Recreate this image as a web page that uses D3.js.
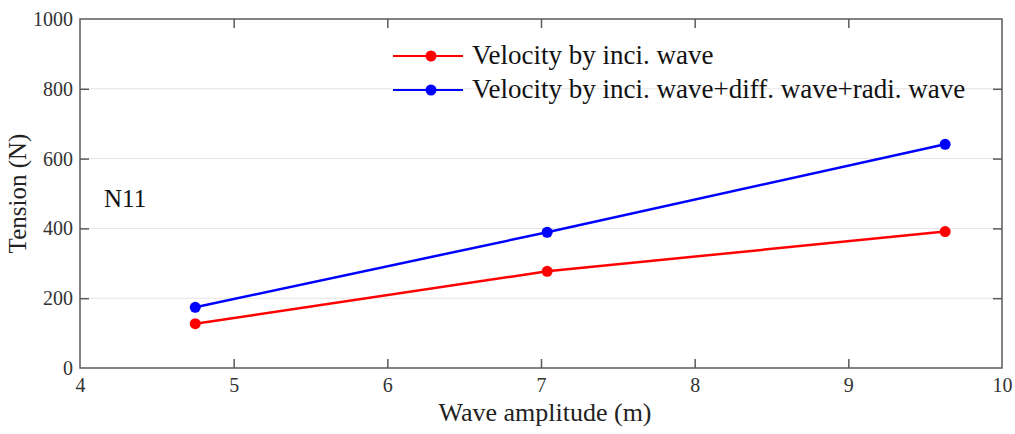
<!DOCTYPE html>
<html>
<head>
<meta charset="utf-8">
<script src="https://cdn.jsdelivr.net/npm/d3@7"></script>
<style>
  html, body { margin: 0; padding: 0; background: #fff; }
  svg { display: block; font-family: "Liberation Serif", "Times New Roman", serif; }
</style>
</head>
<body>
<div id="chart"></div>
<script>
// Data
const amplitudes = [4.75, 7.04, 9.63];
const tensionInci = [127, 277, 391];
const tensionAll = [174, 389, 641];
const xTicks = [4, 5, 6, 7, 8, 9, 10];
const yTicks = [0, 200, 400, 600, 800, 1000];
const seriesNames = [
  'Velocity by inci. wave',
  'Velocity by inci. wave+diff. wave+radi. wave'
];
const seriesColors = ['#ff0000', '#0000ff'];

const width = 1015, height = 434;
const margin = { top: 19, right: 13, bottom: 66, left: 80 };
const innerW = width - margin.left - margin.right;
const innerH = height - margin.top - margin.bottom;
const axisColor = '#5a5a5a';
const serif = '"Liberation Serif", "Times New Roman", serif';

const svg = d3.select('#chart').append('svg')
  .attr('width', width)
  .attr('height', height);

const g = svg.append('g')
  .attr('transform', `translate(${margin.left},${margin.top})`);

const x = d3.scaleLinear().domain([4, 10]).range([0, innerW]);
const y = d3.scaleLinear().domain([0, 1000]).range([innerH, 0]);

// Horizontal grid lines
g.append('g')
  .selectAll('line')
  .data(yTicks.slice(1, -1))
  .join('line')
  .attr('x1', 0)
  .attr('x2', innerW)
  .attr('y1', d => y(d))
  .attr('y2', d => y(d))
  .attr('stroke', '#e4e4e4')
  .attr('stroke-width', 1);

// Axes (inward ticks, like the original)
function styleAxis(sel) {
  sel.attr('font-family', serif).attr('font-size', 20);
  sel.select('.domain').remove();
  sel.selectAll('line').attr('stroke', axisColor).attr('stroke-width', 1.5);
  sel.selectAll('text').attr('fill', '#333');
}

const xAxis = g.append('g')
  .attr('transform', `translate(0,${innerH})`)
  .call(d3.axisBottom(x).tickValues(xTicks).tickSize(-9).tickPadding(10).tickFormat(d3.format('d')));
styleAxis(xAxis);
xAxis.selectAll('.tick').filter(d => d === 4 || d === 10).select('line').remove();

g.append('g')
  .call(d3.axisTop(x).tickValues(xTicks).tickSize(-9).tickFormat(''))
  .call(styleAxis)
  .selectAll('.tick').filter(d => d === 4 || d === 10).select('line').remove();

const yAxis = g.append('g')
  .call(d3.axisLeft(y).tickValues(yTicks).tickSize(-9).tickPadding(7).tickFormat(d3.format('d')));
styleAxis(yAxis);
yAxis.selectAll('.tick').filter(d => d === 0 || d === 1000).select('line').remove();

g.append('g')
  .attr('transform', `translate(${innerW},0)`)
  .call(d3.axisRight(y).tickValues(yTicks).tickSize(-9).tickFormat(''))
  .call(styleAxis)
  .selectAll('.tick').filter(d => d === 0 || d === 1000).select('line').remove();

// Box
g.append('rect')
  .attr('width', innerW)
  .attr('height', innerH)
  .attr('fill', 'none')
  .attr('stroke', axisColor)
  .attr('stroke-width', 1.5);

// Series
const seriesData = [tensionInci, tensionAll];
const line = d3.line()
  .x(d => x(d[0]))
  .y(d => y(d[1]));

seriesData.forEach((vals, i) => {
  const pts = amplitudes.map((a, j) => [a, vals[j]]);
  g.append('path')
    .datum(pts)
    .attr('d', line)
    .attr('fill', 'none')
    .attr('stroke', seriesColors[i])
    .attr('stroke-width', 2.5);
  g.selectAll(`.dot-${i}`)
    .data(pts)
    .join('circle')
    .attr('class', `dot-${i}`)
    .attr('cx', d => x(d[0]))
    .attr('cy', d => y(d[1]))
    .attr('r', 5.5)
    .attr('fill', seriesColors[i]);
});

// Legend
const legend = svg.append('g').attr('transform', 'translate(393,56)');
seriesNames.forEach((name, i) => {
  const row = legend.append('g').attr('transform', `translate(0,${i * 34})`);
  row.append('line')
    .attr('x1', 0).attr('x2', 70)
    .attr('stroke', seriesColors[i]).attr('stroke-width', 2);
  row.append('circle')
    .attr('cx', 38).attr('r', 5.5)
    .attr('fill', seriesColors[i]);
  row.append('text')
    .attr('x', 79).attr('y', 8)
    .attr('font-family', serif)
    .attr('font-size', 27)
    .attr('fill', '#111')
    .text(name);
});

// Annotation
svg.append('text')
  .attr('x', 104).attr('y', 207)
  .attr('font-family', serif)
  .attr('font-size', 25)
  .attr('fill', '#111')
  .text('N11');

// Axis titles
svg.append('text')
  .attr('x', 545)
  .attr('y', 421)
  .attr('text-anchor', 'middle')
  .attr('font-family', serif)
  .attr('font-size', 26)
  .attr('fill', '#222')
  .text('Wave amplitude (m)');

svg.append('text')
  .attr('transform', `translate(26,${margin.top + innerH / 2}) rotate(-90)`)
  .attr('text-anchor', 'middle')
  .attr('font-family', serif)
  .attr('font-size', 25)
  .attr('fill', '#222')
  .text('Tension (N)');
</script>
</body>
</html>
